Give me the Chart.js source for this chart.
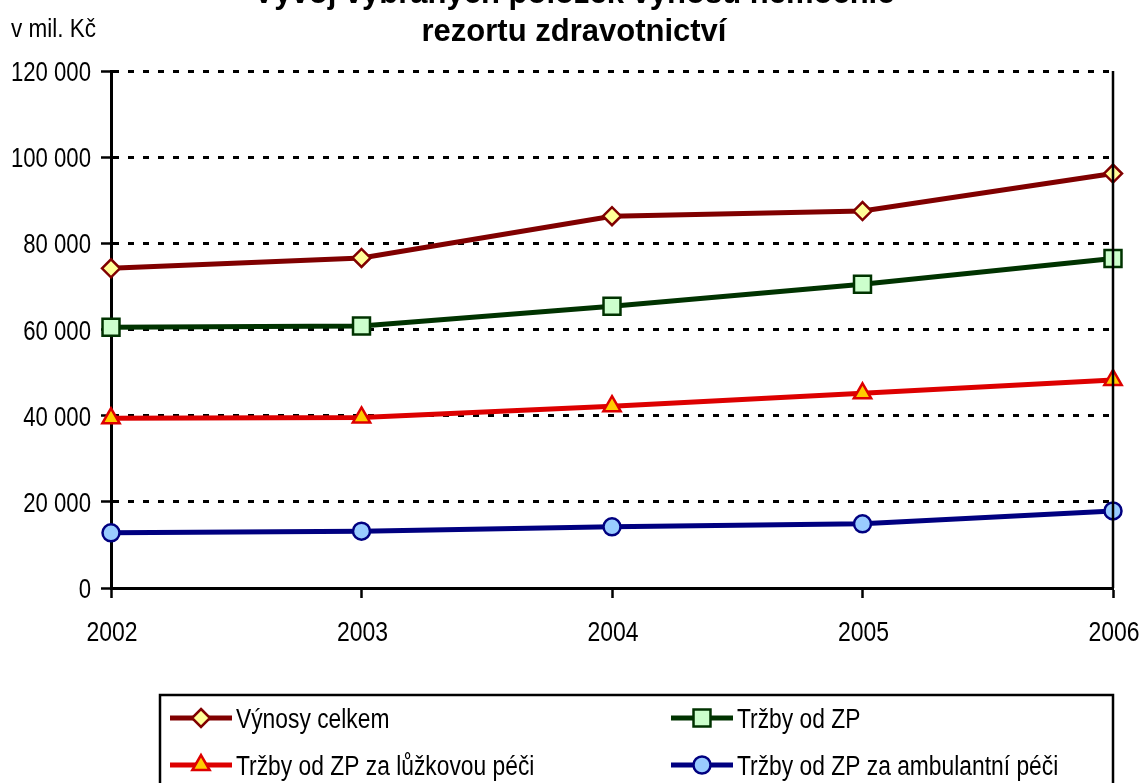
<!DOCTYPE html>
<html>
<head>
<meta charset="utf-8">
<script src="https://cdn.jsdelivr.net/npm/chart.js@4/dist/chart.umd.min.js"></script>
<style>
  html, body { margin: 0; padding: 0; background: #fff; overflow: hidden; }
  #wrap { width: 1142px; height: 783px; }
</style>
</head>
<body>
<div id="wrap"><canvas id="chart" width="1142" height="783"></canvas></div>
<script>
// data
const years = ['2002', '2003', '2004', '2005', '2006'];
const vynosyCelkem = [74200, 76600, 86300, 87500, 96200];
const trzbyZP = [60500, 60800, 65400, 70500, 76500];
const trzbyLuzkova = [39400, 39600, 42200, 45200, 48300];
const trzbyAmbulantni = [12800, 13200, 14200, 14900, 17900];
const yTicks = [0, 20000, 40000, 60000, 80000, 100000, 120000];

const FONT = '"Liberation Sans", Arial, sans-serif';

function fmt(v) {
    return String(v).replace(/\B(?=(\d{3})+(?!\d))/g, ' ');
}

// text squeezed horizontally, the original uses a narrow face
function narrowText(ctx, text, x, y, size, sx, align) {
    ctx.save();
    ctx.font = size + 'px ' + FONT;
    ctx.textAlign = align;
    ctx.textBaseline = 'alphabetic';
    ctx.translate(x, y);
    ctx.scale(sx, 1);
    ctx.fillText(text, 0, 0);
    ctx.restore();
}

function marker(ctx, style, x, y, r, fill, stroke) {
    ctx.save();
    ctx.fillStyle = fill;
    ctx.strokeStyle = stroke;
    ctx.lineWidth = 2.5;
    ctx.beginPath();
    if (style === 'rectRot') {
        ctx.moveTo(x, y - r); ctx.lineTo(x + r, y); ctx.lineTo(x, y + r); ctx.lineTo(x - r, y);
        ctx.closePath();
    } else if (style === 'rect') {
        const s = r * Math.SQRT1_2;
        ctx.rect(x - s, y - s, s * 2, s * 2);
    } else if (style === 'triangle') {
        ctx.moveTo(x, y - r);
        ctx.lineTo(x + r * 0.866, y + r * 0.5);
        ctx.lineTo(x - r * 0.866, y + r * 0.5);
        ctx.closePath();
    } else {
        ctx.arc(x, y, r, 0, Math.PI * 2);
    }
    ctx.fill();
    ctx.stroke();
    ctx.restore();
}

// title, unit label, tick labels, right frame line and the boxed legend
const decorations = {
    id: 'decorations',
    afterDraw(chart) {
        const ctx = chart.ctx;
        const area = chart.chartArea;
        const xs = chart.scales.x;
        const ys = chart.scales.y;
        ctx.save();
        ctx.fillStyle = '#000';

        ctx.font = 'bold 31px ' + FONT;
        ctx.textAlign = 'center';
        ctx.textBaseline = 'alphabetic';
        ctx.fillText('Vývoj vybraných položek výnosů nemocnic', 574, 3);
        ctx.fillText('rezortu zdravotnictví', 574, 41);

        narrowText(ctx, 'v mil. Kč', 11, 37, 25, 0.9, 'left');

        ys.ticks.forEach(t => {
            narrowText(ctx, fmt(t.value), 91, ys.getPixelForValue(t.value) + 10, 27, 0.82, 'right');
        });
        years.forEach((lab, i) => {
            narrowText(ctx, lab, xs.getPixelForValue(i) + 1, 641, 28, 0.82, 'center');
        });

        ctx.strokeStyle = '#000';
        ctx.lineWidth = 2.5;
        ctx.beginPath();
        ctx.moveTo(area.right, area.top);
        ctx.lineTo(area.right, area.bottom);
        ctx.stroke();

        // legend
        ctx.lineWidth = 2.5;
        ctx.strokeRect(160, 695, 953, 110);
        const colX = [170, 671];
        const rowY = [718, 765];
        chart.data.datasets.forEach((ds, i) => {
            const x0 = colX[i % 2];
            const y = rowY[Math.floor(i / 2)];
            ctx.strokeStyle = ds.borderColor;
            ctx.lineWidth = 5;
            ctx.beginPath();
            ctx.moveTo(x0, y);
            ctx.lineTo(x0 + 62, y);
            ctx.stroke();
            marker(ctx, ds.pointStyle, x0 + 31, y, ds.pointRadius, ds.pointBackgroundColor, ds.pointBorderColor);
            ctx.fillStyle = '#000';
            narrowText(ctx, ds.label, x0 + 66, y + 10, 27, 0.845, 'left');
        });
        ctx.restore();
    }
};

new Chart(document.getElementById('chart'), {
    type: 'line',
    data: {
        labels: years,
        datasets: [{
            label: 'Výnosy celkem',
            data: vynosyCelkem,
            borderColor: '#800000',
            borderWidth: 5,
            pointStyle: 'rectRot',
            pointRadius: 9,
            pointBackgroundColor: '#ffff99',
            pointBorderColor: '#800000',
            pointBorderWidth: 2.5
        }, {
            label: 'Tržby od ZP',
            data: trzbyZP,
            borderColor: '#003300',
            borderWidth: 5,
            pointStyle: 'rect',
            pointRadius: 12,
            pointBackgroundColor: '#ccffcc',
            pointBorderColor: '#003300',
            pointBorderWidth: 2.5
        }, {
            label: 'Tržby od ZP za lůžkovou péči',
            data: trzbyLuzkova,
            borderColor: '#dd0000',
            borderWidth: 5,
            pointStyle: 'triangle',
            pointRadius: 10,
            pointBackgroundColor: '#ffcc00',
            pointBorderColor: '#dd0000',
            pointBorderWidth: 2.5
        }, {
            label: 'Tržby od ZP za ambulantní péči',
            data: trzbyAmbulantni,
            borderColor: '#000080',
            borderWidth: 5,
            pointStyle: 'circle',
            pointRadius: 8.5,
            pointBackgroundColor: '#99ccff',
            pointBorderColor: '#000080',
            pointBorderWidth: 2.5
        }]
    },
    options: {
        responsive: false,
        animation: false,
        clip: false,
        layout: { padding: { left: 0, right: 29, top: 71, bottom: 135 } },
        plugins: {
            legend: { display: false },
            title: { display: false },
            tooltip: { enabled: false }
        },
        scales: {
            x: {
                offset: false,
                afterFit(scale) { scale.height = 60; },
                grid: {
                    drawOnChartArea: false,
                    drawTicks: true,
                    tickLength: 10,
                    tickColor: '#000',
                    tickWidth: 2.5
                },
                border: { display: true, color: '#000', width: 3 },
                ticks: {
                    color: 'rgba(0,0,0,0)',
                    font: { family: FONT, size: 1 },
                    padding: 0,
                    maxRotation: 0
                }
            },
            y: {
                min: 0,
                max: 120000,
                afterFit(scale) { scale.width = 111; },
                afterBuildTicks(scale) { scale.ticks = yTicks.map(v => ({ value: v })); },
                grid: {
                    color: '#000',
                    lineWidth: 3,
                    drawTicks: true,
                    tickLength: 10,
                    tickColor: '#000',
                    tickWidth: 2.5,
                    tickBorderDash: []
                },
                border: { display: true, color: '#000', width: 3, dash: [6, 9] },
                ticks: {
                    color: 'rgba(0,0,0,0)',
                    font: { family: FONT, size: 1 },
                    padding: 0,
                    callback: v => fmt(v)
                }
            }
        }
    },
    plugins: [decorations]
});
</script>
</body>
</html>
